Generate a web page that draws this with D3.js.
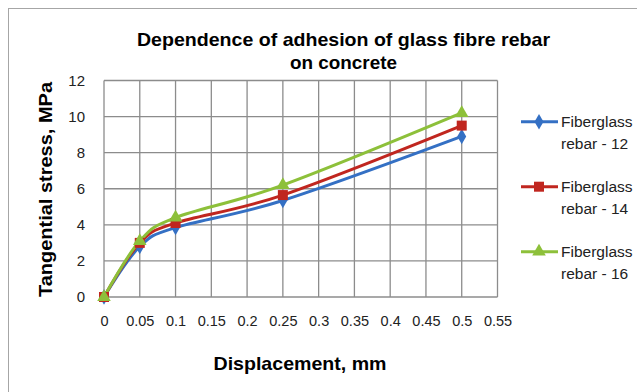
<!DOCTYPE html>
<html><head><meta charset="utf-8">
<script src="https://cdn.jsdelivr.net/npm/d3@7"></script>
<style>body{margin:0;background:#fff}svg{display:block}</style>
</head><body>
<script>
const displacement = [0, 0.05, 0.1, 0.25, 0.5];
const rebar12 = [0, 2.8, 3.85, 5.35, 8.9];
const rebar14 = [0, 3.0, 4.1, 5.65, 9.5];
const rebar16 = [0, 3.1, 4.4, 6.2, 10.2];
const seriesNames = ["Fiberglass rebar - 12", "Fiberglass rebar - 14", "Fiberglass rebar - 16"];
const xTicks = [0, 0.05, 0.1, 0.15, 0.2, 0.25, 0.3, 0.35, 0.4, 0.45, 0.5, 0.55];
const yTicks = [0, 2, 4, 6, 8, 10, 12];
const titleLines = ["Dependence of adhesion of glass fibre rebar", "on concrete"];

const series = [
  {name: seriesNames[0], values: rebar12, color: "#3470c4", sym: d3.symbolDiamond, size: 70},
  {name: seriesNames[1], values: rebar14, color: "#c0261f", sym: d3.symbolSquare, size: 100},
  {name: seriesNames[2], values: rebar16, color: "#8dc03a", sym: d3.symbolTriangle, size: 80}
];

const W = 637, H = 392;
const svg = d3.select("body").append("svg").attr("width", W).attr("height", H);
svg.append("rect").attr("x", 8.5).attr("y", 8.5).attr("width", W).attr("height", H)
  .attr("fill", "#fff").attr("stroke", "#a6a6a6").attr("stroke-width", 1);

const L = 104, R = 497.5, T = 80.5, B = 297;
const x = d3.scaleLinear().domain([0, 0.55]).range([L, R]);
const y = d3.scaleLinear().domain([0, 12]).range([B, T]);

const font = "'Liberation Sans', Arial, sans-serif";

// grid
const g = svg.append("g");
g.selectAll("line.v").data(xTicks).join("line")
  .attr("x1", d => x(d)).attr("x2", d => x(d)).attr("y1", T).attr("y2", B)
  .attr("stroke", "#8c8c8c").attr("stroke-width", 1.3);
g.selectAll("line.h").data(yTicks).join("line")
  .attr("x1", L).attr("x2", R).attr("y1", d => y(d)).attr("y2", d => y(d))
  .attr("stroke", "#8c8c8c").attr("stroke-width", 1.3);

// axes (labels only)
const xAxis = d3.axisBottom(x).tickValues(xTicks).tickSize(0).tickPadding(0)
  .tickFormat(d => d3.format("")(+d.toFixed(2)));
const xa = svg.append("g").attr("transform", `translate(0,${B + 24})`).call(xAxis);
xa.select(".domain").remove();
xa.selectAll("text").attr("font-family", font).attr("font-size", 14.5).attr("fill", "#222").attr("dy", "0.35em");

const yAxis = d3.axisLeft(y).tickValues(yTicks).tickSize(0).tickPadding(0);
const ya = svg.append("g").attr("transform", `translate(${L - 19},0)`).call(yAxis);
ya.select(".domain").remove();
ya.selectAll("text").attr("font-family", font).attr("font-size", 15).attr("fill", "#222");

// lines
const line = d3.line().x((d, i) => x(displacement[i])).y(d => y(d)).curve(d3.curveCatmullRom.alpha(0));
series.forEach(s => {
  svg.append("path").datum(s.values).attr("d", line)
    .attr("fill", "none").attr("stroke", s.color).attr("stroke-width", 3);
});
series.forEach(s => {
  svg.append("g").selectAll("path").data(s.values).join("path")
    .attr("d", d3.symbol().type(s.sym).size(s.size))
    .attr("transform", (d, i) => `translate(${x(displacement[i])},${y(d)})`)
    .attr("fill", s.color);
});

// title
const titleWidths = [413, 107];
svg.append("g").selectAll("text").data(titleLines).join("text")
  .attr("x", 343.5).attr("y", (d, i) => 46 + i * 22.5)
  .attr("text-anchor", "middle").attr("font-family", font).attr("font-weight", "bold")
  .attr("font-size", 18.5).attr("fill", "#000")
  .attr("textLength", (d, i) => titleWidths[i]).attr("lengthAdjust", "spacingAndGlyphs")
  .text(d => d);

// axis titles
svg.append("text").attr("x", 300).attr("y", 370).attr("text-anchor", "middle")
  .attr("font-family", font).attr("font-weight", "bold").attr("font-size", 19)
  .attr("textLength", 173).attr("lengthAdjust", "spacingAndGlyphs").text("Displacement, mm");
svg.append("text").attr("transform", "translate(52,189.5) rotate(-90)").attr("text-anchor", "middle")
  .attr("font-family", font).attr("font-weight", "bold").attr("font-size", 19)
  .attr("textLength", 215).attr("lengthAdjust", "spacingAndGlyphs").text("Tangential stress, MPa");

// legend
const legY = [121.7, 186.7, 251.7];
series.forEach((s, i) => {
  const lg = svg.append("g").attr("transform", `translate(0,${legY[i]})`);
  lg.append("line").attr("x1", 521).attr("x2", 558).attr("y1", 0).attr("y2", 0)
    .attr("stroke", s.color).attr("stroke-width", 3);
  lg.append("path").attr("d", d3.symbol().type(s.sym).size(s.size))
    .attr("transform", "translate(539,0)").attr("fill", s.color);
  const parts = [s.name.slice(0, 10), s.name.slice(11)];
  lg.selectAll("text").data(parts).join("text")
    .attr("x", 561).attr("y", (d, k) => 5.5 + k * 21.5)
    .attr("font-family", font).attr("font-size", 15.5).attr("fill", "#222").text(d => d);
});
</script>
</body></html>
